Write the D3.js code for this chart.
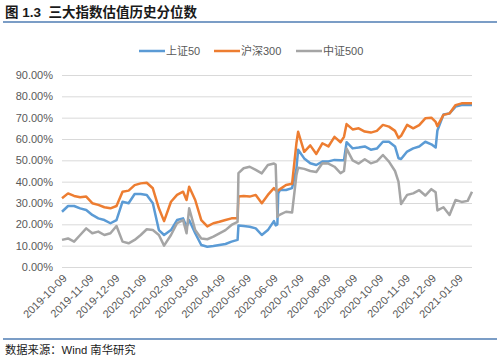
<!DOCTYPE html>
<html><head><meta charset="utf-8">
<script src="https://cdn.jsdelivr.net/npm/d3@7"></script>
<style>
body{margin:0;background:#fff;}
svg{font-family:"Liberation Sans",Arial,"Noto Sans CJK SC",sans-serif;}
</style></head><body>
<svg id="c" width="499" height="359"></svg>
<script>
const titleText = "图 1.3  三大指数估值历史分位数";
const sourceText = "数据来源：Wind 南华研究";
const seriesNames = ["上证50", "沪深300", "中证500"];
const seriesColors = ["#5B9BD5", "#ED7D31", "#A5A5A5"];
const yTicks = [0, 10, 20, 30, 40, 50, 60, 70, 80, 90];
const xTickLabels = ["2019-10-09","2019-11-09","2019-12-09","2020-01-09","2020-02-09","2020-03-09","2020-04-09","2020-05-09","2020-06-09","2020-07-09","2020-08-09","2020-09-09","2020-10-09","2020-11-09","2020-12-09","2021-01-09"];
const dates = ["2019-10-09","2019-10-16","2019-10-23","2019-10-30","2019-11-06","2019-11-13","2019-11-20","2019-11-27","2019-12-04","2019-12-11","2019-12-18","2019-12-25","2020-01-01","2020-01-08","2020-01-15","2020-01-22","2020-01-29","2020-02-04","2020-02-12","2020-02-19","2020-02-26","2020-03-01","2020-03-04","2020-03-11","2020-03-18","2020-03-25","2020-04-01","2020-04-08","2020-04-15","2020-04-22","2020-04-29","2020-04-30","2020-05-06","2020-05-13","2020-05-20","2020-05-27","2020-06-03","2020-06-10","2020-06-12","2020-06-14","2020-06-15","2020-06-17","2020-06-24","2020-07-01","2020-07-06","2020-07-08","2020-07-15","2020-07-22","2020-07-29","2020-08-05","2020-08-12","2020-08-19","2020-08-26","2020-08-30","2020-09-02","2020-09-09","2020-09-16","2020-09-23","2020-09-30","2020-10-07","2020-10-14","2020-10-21","2020-10-28","2020-11-01","2020-11-04","2020-11-11","2020-11-18","2020-11-25","2020-12-02","2020-12-09","2020-12-14","2020-12-16","2020-12-23","2020-12-30","2021-01-06","2021-01-13","2021-01-20","2021-01-25"];
const sz50 = [25.9,28.6,28.6,27.5,26.7,24.4,22.8,22.0,20.5,22.0,30.6,29.9,34.2,34.2,33.8,29.9,17.3,15.0,17.3,22.0,22.8,18.9,22.0,15.8,10.3,9.5,9.8,10.3,10.8,11.9,12.7,19.5,19.2,18.9,18.1,15.0,17.3,21.5,19.5,20.0,34.5,36.1,36.1,37.0,46.0,55.0,50.9,48.6,47.8,49.4,49.5,50.2,50.0,50.0,58.5,55.6,56.0,56.5,55.0,55.5,58.7,58.7,56.5,51.0,50.6,54.1,55.6,56.5,58.7,57.5,56.0,64.0,71.5,72.0,75.2,75.9,76.0,75.9];
const hs300 = [32.2,34.5,33.3,32.7,33.0,29.9,29.1,28.0,27.5,28.6,35.3,35.8,38.4,39.2,39.5,36.9,27.5,21.5,30.6,33.8,35.3,31.4,37.6,31.4,22.0,19.0,20.5,21.2,22.0,22.8,22.8,33.0,33.3,33.0,33.8,29.9,33.8,37.0,36.0,35.5,36.0,36.5,38.4,39.0,58.0,63.4,54.0,57.0,53.0,58.0,56.5,61.0,58.5,61.0,67.0,64.5,65.0,63.5,63.0,63.8,66.6,65.8,63.8,60.5,61.5,66.6,65.0,66.5,69.7,70.0,68.0,66.0,71.3,72.0,75.9,76.7,76.8,76.7];
const zz500 = [12.7,13.4,11.9,15.0,18.1,15.8,16.6,15.0,15.8,19.2,11.9,11.1,12.7,15.0,17.7,17.3,15.0,10.0,15.0,20.5,22.0,15.8,27.5,17.3,13.4,13.0,14.2,15.8,17.3,19.7,21.2,44.0,46.3,47.0,45.5,43.9,47.8,48.5,48.0,23.5,24.0,24.5,25.9,25.5,43.0,46.5,46.0,45.0,44.5,48.6,48.5,47.0,44.0,45.0,55.5,50.0,48.5,50.5,48.6,49.5,52.5,49.4,45.0,40.0,29.5,33.8,34.5,36.0,33.5,36.5,35.0,26.5,28.0,24.4,31.4,30.5,31.0,35.3];
const domainStart = "2019-10-09", domainEnd = "2021-01-25";

const parse = d3.timeParse("%Y-%m-%d");
const svg = d3.select("#c");
const plot = {l:62, r:472, t:75, b:267};
const x = d3.scaleTime().domain([parse(domainStart), parse(domainEnd)]).range([plot.l, plot.r]);
const y = d3.scaleLinear().domain([0, 90]).range([plot.b, plot.t]);

// title
svg.append("text").attr("x",5).attr("y",17).attr("font-size","13.5px").attr("font-weight","bold").attr("fill","#1a1a1a").style("white-space","pre").text(titleText);
svg.append("line").attr("x1",3).attr("x2",497).attr("y1",22).attr("y2",22).attr("stroke","#4f7db3").attr("stroke-width",1.5);
svg.append("line").attr("x1",3).attr("x2",497).attr("y1",339).attr("y2",339).attr("stroke","#4f7db3").attr("stroke-width",1.5);
svg.append("text").attr("x",5).attr("y",354).attr("font-size","11.3px").attr("fill","#1a1a1a").text(sourceText);

// grid + y axis
const yAxis = d3.axisLeft(y).tickValues(yTicks).tickSize(-(plot.r-plot.l)).tickPadding(9).tickFormat(d => d.toFixed(2)+"%");
const gy = svg.append("g").attr("transform",`translate(${plot.l},0)`).call(yAxis);
gy.select(".domain").remove();
gy.selectAll(".tick line").attr("stroke","#d9d9d9").attr("stroke-width",1);
gy.selectAll(".tick text").attr("font-size","11px").attr("fill","#595959").attr("font-family","Liberation Sans, Arial, sans-serif");

// x axis labels
const xAxis = d3.axisBottom(x).tickValues(xTickLabels.map(parse)).tickSize(0).tickFormat(d3.timeFormat("%Y-%m-%d"));
const gx = svg.append("g").attr("transform",`translate(0,${plot.b})`).call(xAxis);
gx.select(".domain").remove();
gx.selectAll(".tick text").attr("font-size","11px").attr("fill","#595959")
  .attr("text-anchor","end").attr("dy",0).attr("y",0)
  .attr("transform","translate(5,12) rotate(-45)");

// lines
const line = d3.line().x(d => x(d[0])).y(d => y(d[1]));
[sz50, hs300, zz500].forEach((vals, k) => {
  const pts = dates.map((d,i) => [parse(d), vals[i]]);
  svg.append("path").datum(pts).attr("d", line).attr("fill","none")
    .attr("stroke", seriesColors[k]).attr("stroke-width",2.5).attr("stroke-linejoin","round");
});

// legend
const legX = [139, 214, 296];
seriesNames.forEach((n,k) => {
  const g = svg.append("g").attr("transform",`translate(${legX[k]},51)`);
  g.append("line").attr("x1",0).attr("x2",26).attr("stroke",seriesColors[k]).attr("stroke-width",2.5);
  g.append("text").attr("x",27).attr("y",4).attr("font-size","11px").attr("fill","#595959").text(n);
});
</script></body></html>
